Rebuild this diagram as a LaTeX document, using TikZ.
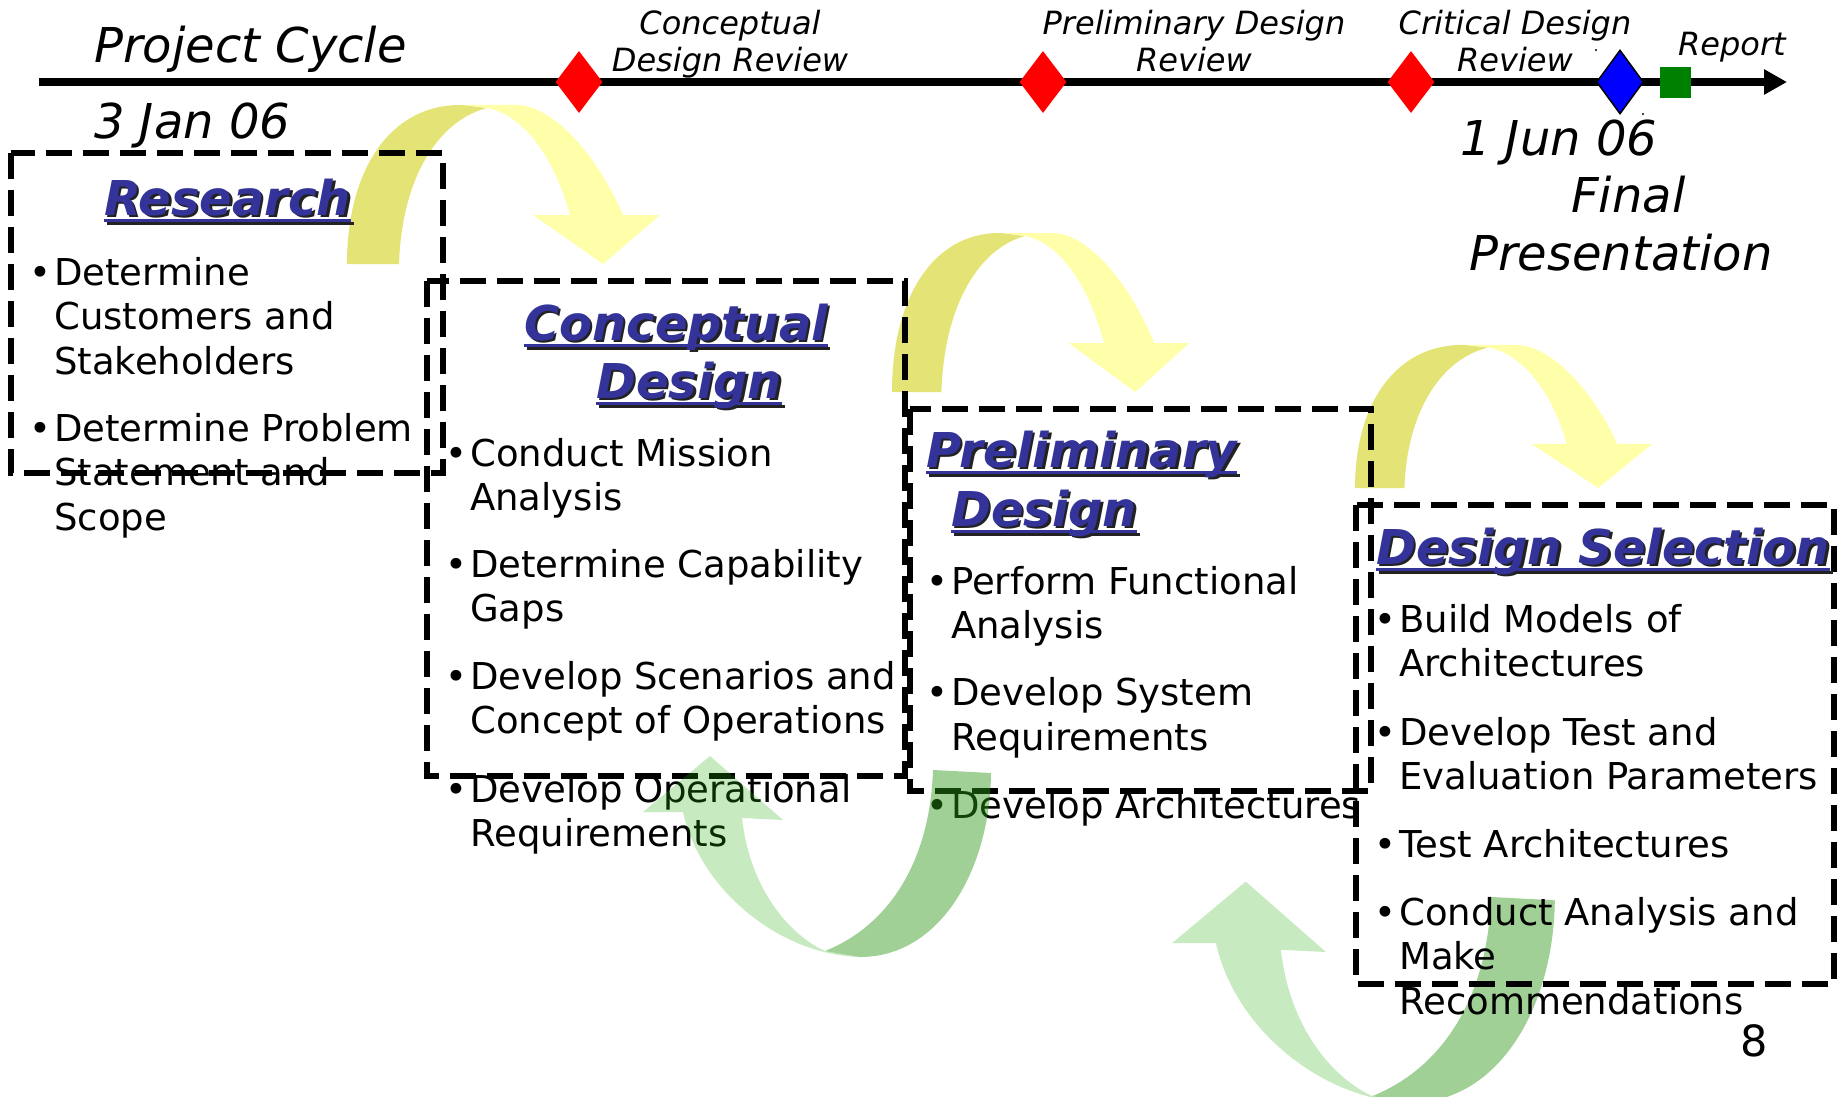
\documentclass[tikz,border=0pt]{standalone}
\usepackage{fontspec}
\setmainfont{DejaVu Sans}[ItalicFont={DejaVu Sans Oblique},BoldFont={DejaVu Sans Bold},BoldItalicFont={DejaVu Sans Bold Oblique}]
\usetikzlibrary{shapes.geometric,arrows.meta}
\definecolor{titleblue}{HTML}{333399}
\definecolor{shadowgray}{HTML}{222222}
\definecolor{ydarkc}{HTML}{E4E476}
\definecolor{ylightc}{HTML}{FFFFAA}
\definecolor{gdarkc}{RGB}{44,151,22}
\definecolor{glightc}{RGB}{39,172,16}
\definecolor{mkblue}{HTML}{0000FF}
\definecolor{mkgreen}{HTML}{008000}
\definecolor{mkred}{HTML}{FF0000}
\newcommand\myul[1]{\setbox0=\hbox{#1}\rlap{\rule[-7pt]{\wd0}{3pt}}\box0}
\tikzset{
  txt/.style={font=\fontsize{37}{44}\selectfont, inner sep=0pt, anchor=base west},
  ttl/.style={font=\fontsize{48}{58}\selectfont\bfseries\itshape, inner sep=0pt, anchor=base west, text=titleblue},
  shd/.style={ttl, text=shadowgray},
  lbl/.style={font=\fontsize{32}{37}\selectfont\itshape, inner sep=0pt, anchor=base},
  big/.style={font=\fontsize{48}{58}\selectfont\itshape, inner sep=0pt, anchor=base west},
  phasebox/.style={draw=black, line width=5.5pt, dash pattern=on 26pt off 11pt},
  reddia/.style={diamond, fill=mkred, minimum width=47pt, minimum height=62pt, inner sep=0pt},
  ydark/.style={fill=ydarkc},
  ylight/.style={fill=ylightc},
  gdark/.style={fill=gdarkc, fill opacity=0.45},
  glight/.style={fill=glightc, fill opacity=0.26}
}
\newcommand\bline[4]{\node[txt] (#1) at (#2,#3) {\llap{•\kern3pt}#4};}
\newcommand\tline[4]{\node[txt] (#1) at (#2,#3) {#4};}
\newcommand\phasetitle[4]{%
  \node[shd] (#1s) at ({#2+2.5},{#3+2.5}) {\myul{#4}};
  \node[ttl] (#1) at (#2,#3) {\myul{#4}};}
\newcommand\yarrow[3]{%
  \begin{scope}[shift={(#1,#2)},#3]
    \fill[ydark] (0,0) .. controls (0,-94) and (43,-159) .. (113,-159) -- (116,-159) -- (140,-156)
      .. controls (93,-144) and (55,-89) .. (52,0) -- cycle;
    \fill[ylight] (116,-159) -- (170,-159) .. controls (198,-159) and (243,-124) .. (276,-49)
      -- (313,-49) -- (256,0) -- (186,-49) -- (223,-49)
      .. controls (208,-104) and (178,-149) .. (140,-156) -- cycle;
  \end{scope}}
\newcommand\garrow[3]{%
  \begin{scope}[shift={(#1,#2)},#3]
    \fill[gdark] (0,0) -- (58,3) .. controls (57,100) and (7,187) .. (-73,187) -- (-108,181)
      .. controls (-43,155) and (-3,90) .. (0,0) -- cycle;
    \fill[glight] (-73,187) .. controls (-153,185) and (-233,120) .. (-250,42) -- (-290,42)
      -- (-223,-14) -- (-150,50) -- (-191,48) .. controls (-183,120) and (-143,165) .. (-108,181) -- cycle;
  \end{scope}}
\begin{document}
\begin{tikzpicture}[x=1pt,y=-1pt]
\useasboundingbox (0,0) rectangle (1841,1097);
\clip (0,0) rectangle (1841,1097);
% yellow arrows (behind)
\yarrow{347}{264}{}
\yarrow{892}{392}{xscale=0.95}
\yarrow{1355}{488}{xscale=0.95,yscale=0.9}
% lower-right green arrow (behind boxes and text)
\garrow{1491}{897}{scale=1.1}
% timeline
\coordinate (tlA) at (39,82);
\coordinate (tlB) at (1787,82);
\draw[line width=8pt, -{Triangle[length=23pt,width=24pt]}] (tlA) -- (tlB);
\node[reddia] (cdr) at (579,82) {};
\node[reddia] (pdr) at (1043,82) {};
\node[reddia] (crdr) at (1411,82) {};
\node[diamond, draw=black, line width=1.5pt, fill=mkblue, minimum width=47pt, minimum height=64pt, inner sep=0pt] (fin) at (1620,82) {};
\node[fill=mkgreen, minimum size=31.5pt, inner sep=0pt] (rep) at (1675.5,82.5) {};
\fill (1596,50) circle (1.2);
\fill (1643,114) circle (1.2);
% top labels
\node[big] (pc) at (94,63) {Project Cycle};
\node[big] (d1) at (94,139) {3 Jan 06};
\node[lbl] (l1a) at (730,35) {Conceptual};
\node[lbl] (l1b) at (730,72) {Design Review};
\node[lbl] (l2a) at (1194,35) {Preliminary Design};
\node[lbl] (l2b) at (1194,72) {Review};
\node[lbl] (l3a) at (1515,35) {Critical Design};
\node[lbl] (l3b) at (1515,72) {Review};
\node[lbl, anchor=base west] (l4) at (1678,56) {Report};
\node[big] (d2) at (1460,155) {1 Jun 06};
\node[big] (fp1) at (1571,212) {Final};
\node[big] (fp2) at (1469,270) {Presentation};
% boxes
\draw[phasebox] (11,153) rectangle (443,473);
\draw[phasebox] (427,281) rectangle (905,776);
\draw[phasebox] (910,409) rectangle (1371,791);
\draw[phasebox] (1356,505) rectangle (1834,984);
% titles
\phasetitle{tR}{104}{215}{Research}
\phasetitle{tC}{524}{340}{Conceptual}
\phasetitle{tCb}{596}{398}{Design}
\phasetitle{tP}{926}{467}{Preliminary}
\phasetitle{tPb}{951}{526}{Design}
\phasetitle{tS}{1376}{564}{Design Selection}
% research
\bline{r1}{54}{285}{Determine}
\tline{r2}{54}{329.5}{Customers and}
\tline{r3}{54}{374}{Stakeholders}
\bline{r4}{54}{441}{Determine Problem}
\tline{r5}{54}{485.5}{Statement and}
\tline{r6}{54}{530}{Scope}
% conceptual
\bline{c1}{470}{466}{Conduct Mission}
\tline{c2}{470}{510}{Analysis}
\bline{c3}{470}{577}{Determine Capability}
\tline{c4}{470}{621}{Gaps}
\bline{c5}{470}{689}{Develop Scenarios and}
\tline{c6}{470}{733}{Concept of Operations}
\bline{c7}{470}{802}{Develop Operational}
\tline{c8}{470}{846}{Requirements}
% preliminary
\bline{p1}{951}{594}{Perform Functional}
\tline{p2}{951}{638}{Analysis}
\bline{p3}{951}{705}{Develop System}
\tline{p4}{951}{750}{Requirements}
\bline{p5}{951}{818}{Develop Architectures}
% design selection
\bline{s1}{1399}{632}{Build Models of}
\tline{s2}{1399}{676}{Architectures}
\bline{s3}{1399}{745}{Develop Test and}
\tline{s4}{1399}{789}{Evaluation Parameters}
\bline{s5}{1399}{857}{Test Architectures}
\bline{s6}{1399}{925}{Conduct Analysis and}
\tline{s7}{1399}{969}{Make}
\tline{s8}{1399}{1014}{Recommendations}
\node[font=\fontsize{43}{50}\selectfont, inner sep=0pt, anchor=base west] (pg) at (1740,1056) {8};
% middle green arrow (on top, translucent)
\garrow{933}{770}{}
\end{tikzpicture}
\end{document}
